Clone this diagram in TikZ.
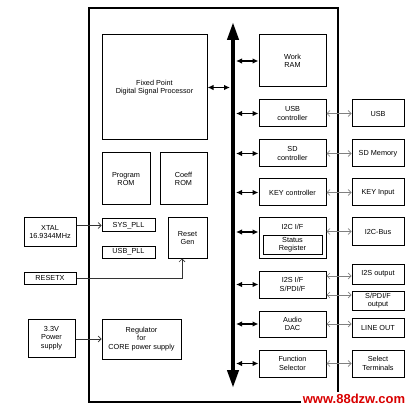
\documentclass[tikz,border=0pt]{standalone}
\usepackage{fontspec}
\setmainfont{Liberation Sans}
\usetikzlibrary{arrows.meta,positioning}
\tikzset{
  blockbox/.style={
    rectangle,
    draw=black,
    line width=1pt,
    fill=white,
    align=center,
    inner sep=0pt,
    font=\fontsize{7.3}{8.4}\selectfont
  },
  extbox/.style={
    blockbox
  },
  chipline/.style={line width=1.5pt},
  busline/.style={{Triangle[length=18pt,width=11pt]}-{Triangle[length=18pt,width=11pt]},line width=4pt},
  busarrow/.style={{Latex[length=6pt,width=5.5pt]}-{Latex[length=6pt,width=5.5pt]},line width=1.3pt},
  sigline/.style={{Straight Barb[length=3pt,width=6pt]}-{Straight Barb[length=3pt,width=6pt]},line width=0.7pt,draw=black!50},
  clkline/.style={-{Straight Barb[length=3pt,width=6pt]},line width=0.7pt,draw=black!80}
}
\begin{document}
\begin{tikzpicture}[x=1pt,y=-1pt]
  \useasboundingbox (0,0) rectangle (414,411);
  % chip outline
  \draw[chipline] (89,8) rectangle (338,402);

  % left column inside the chip
  \node[blockbox, minimum width=105pt, minimum height=105pt] (dsp) at (154.5,87.5) {Fixed Point\\Digital Signal Processor};
  \node[blockbox, minimum width=48pt, minimum height=52pt] (prom) at (126,179) {Program\\ROM};
  \node[blockbox, minimum width=47pt, minimum height=52pt] (crom) at (183.5,179) {Coeff\\ROM};
  \node[blockbox, minimum width=53pt, minimum height=13pt] (syspll) at (128.5,225.5) {SYS\_PLL};
  \node[blockbox, minimum width=53pt, minimum height=12pt] (usbpll) at (128.5,252) {USB\_PLL};
  \node[blockbox, minimum width=39pt, minimum height=40pt] (rstgen) at (187.5,238) {Reset\\Gen};
  \node[blockbox, minimum width=79pt, minimum height=40pt] (reg) at (141.5,339) {Regulator\\for\\CORE power supply};

  % outside, left
  \node[extbox, minimum width=52pt, minimum height=28pt] (xtal) at (50,232) {XTAL\\16.9344MHz};
  \node[extbox, minimum width=52pt, minimum height=12pt] (resetx) at (50,278) {RESETX};
  \node[extbox, minimum width=47pt, minimum height=38pt] (pwr) at (51.5,338) {3.3V\\Power\\supply};

  % right column inside the chip
  \node[blockbox, minimum width=67pt, minimum height=52pt] (wram) at (292.5,61) {Work\\RAM};
  \node[blockbox, minimum width=67pt, minimum height=27pt] (usbc) at (292.5,113.5) {USB\\controller};
  \node[blockbox, minimum width=67pt, minimum height=27pt] (sdc) at (292.5,153.5) {SD\\controller};
  \node[blockbox, minimum width=67pt, minimum height=27pt] (keyc) at (292.5,192.5) {KEY controller};
  \node[blockbox, minimum width=67pt, minimum height=40pt] (i2c) at (292.5,238) {};
  \node[font=\fontsize{7.3}{8.4}\selectfont, inner sep=0pt] (i2clbl) at (292.5,227) {I2C I/F};
  \node[blockbox, minimum width=59pt, minimum height=18pt] (stat) at (292.5,245) {Status\\Register};
  \node[blockbox, minimum width=67pt, minimum height=27pt] (i2s) at (292.5,284.5) {I2S I/F\\S/PDI/F};
  \node[blockbox, minimum width=67pt, minimum height=26pt] (dac) at (292.5,324) {Audio\\DAC};
  \node[blockbox, minimum width=67pt, minimum height=27pt] (fsel) at (292.5,363.5) {Function\\Selector};

  % outside, right
  \node[extbox, minimum width=52pt, minimum height=27pt] (usb) at (378,113.5) {USB};
  \node[extbox, minimum width=52pt, minimum height=27pt] (sdmem) at (378,153.5) {SD Memory};
  \node[extbox, minimum width=52pt, minimum height=27pt] (keyin) at (378,192.5) {KEY Input};
  \node[extbox, minimum width=52pt, minimum height=27pt] (i2cbus) at (378,231.5) {I2C-Bus};
  \node[extbox, minimum width=52pt, minimum height=20pt] (i2sout) at (378,274) {I2S output};
  \node[extbox, minimum width=52pt, minimum height=19pt] (spdif) at (378,300.5) {S/PDI/F\\output};
  \node[extbox, minimum width=52pt, minimum height=19pt] (lineout) at (378,327.5) {LINE OUT};
  \node[extbox, minimum width=52pt, minimum height=27pt] (selterm) at (378,363.5) {Select\\Terminals};

  % bus
  \coordinate (bustop) at (233,22);
  \coordinate (busbot) at (233,388);
  \coordinate (busleft) at (230,0);
  \coordinate (busright) at (236,0);
  \draw[busline] (bustop) -- (busbot);

  \draw[busarrow] (dsp.east) -- (dsp.east -| busleft);
  \foreach \blk in {wram,usbc,sdc,keyc,fsel,i2s,dac}
    \draw[busarrow] (\blk.west -| busright) -- (\blk.west);
  \draw[busarrow] ([yshift=6pt]i2c.west -| busright) -- ([yshift=6pt]i2c.west);

  % external signals
  \draw[sigline] (usbc.east) -- (usb.west);
  \draw[sigline] (sdc.east) -- (sdmem.west);
  \draw[sigline] (keyc.east) -- (keyin.west);
  \draw[sigline] (i2cbus.west -| i2c.east) -- (i2cbus.west);
  \draw[sigline] ([yshift=8.5pt]i2s.east) -- ([yshift=8.5pt]i2s.east -| i2sout.west);
  \draw[sigline] ([yshift=-10.5pt]i2s.east) -- ([yshift=-10.5pt]i2s.east -| spdif.west);
  \draw[sigline] (dac.east) -- (dac.east -| lineout.west);
  \draw[sigline] (fsel.east) -- (selterm.west);

  \draw[clkline] (xtal.east |- syspll.west) -- (syspll.west);
  \draw[clkline] (resetx.east) -| ([xshift=-5.5pt]rstgen.south);
  \draw[clkline] (pwr.east |- reg.west) -- (reg.west);

  % watermark
  \node[fill=white, text=red!85!black, inner sep=2pt, font=\fontsize{13}{15}\bfseries] (wmark) at (354,399) {www.88dzw.com};
\end{tikzpicture}
\end{document}
